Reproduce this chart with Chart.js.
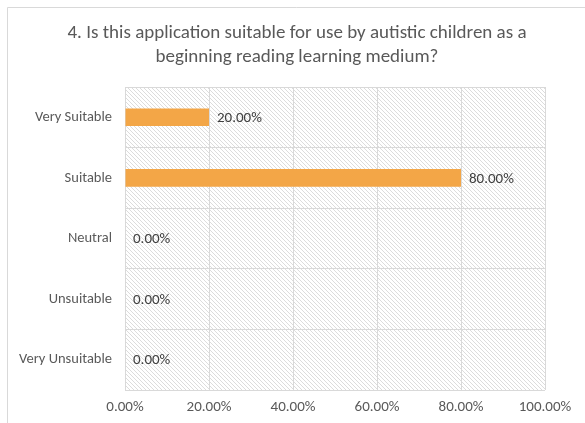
<!DOCTYPE html>
<html>
<head>
<meta charset="utf-8">
<script src="https://cdn.jsdelivr.net/npm/chart.js@4"></script>
<style>
html,body{margin:0;padding:0;background:#fff;}
#wrap{position:relative;width:585px;height:423px;}
</style>
</head>
<body>
<div id="wrap"><canvas id="c" width="585" height="423"></canvas></div>
<script>
const categories = ['Very Suitable', 'Suitable', 'Neutral', 'Unsuitable', 'Very Unsuitable'];
const percentages = [20, 80, 0, 0, 0];
const xTicks = [0, 20, 40, 60, 80, 100];
const titleLines = ['4. Is this application suitable for use by autistic children as a', 'beginning reading learning medium?'];

const FONT = 'Carlito, Lato, "Liberation Sans", sans-serif';

function makeHatch() {
  const n = 4;
  const p = document.createElement('canvas');
  p.width = n; p.height = n;
  const g = p.getContext('2d');
  g.fillStyle = '#ffffff';
  g.fillRect(0, 0, n, n);
  g.fillStyle = '#dcdcdc';
  for (let i = 0; i < n; i++) g.fillRect(i, i, 1, 1);
  return p;
}

const bgPlugin = {
  id: 'bg',
  beforeDraw(chart) {
    const ctx = chart.ctx;
    ctx.save();
    ctx.fillStyle = '#fff';
    ctx.fillRect(0, 0, chart.width, chart.height);
    ctx.strokeStyle = '#d9d9d9';
    ctx.lineWidth = 1;
    ctx.beginPath();
    ctx.moveTo(7.5, chart.height);
    ctx.lineTo(7.5, 7.5);
    ctx.lineTo(chart.width, 7.5);
    ctx.stroke();
    const a = chart.chartArea;
    ctx.fillStyle = ctx.createPattern(makeHatch(), 'repeat');
    ctx.fillRect(a.left, a.top, a.right - a.left, a.bottom - a.top);
    // chart title (centered on the chart frame)
    ctx.font = '19px ' + FONT;
    ctx.fillStyle = '#595959';
    ctx.textAlign = 'center';
    ctx.textBaseline = 'middle';
    titleLines.forEach((t, i) => ctx.fillText(t, 297, 33 + i * 24));
    ctx.restore();
  }
};

const labelPlugin = {
  id: 'valueLabels',
  afterDatasetsDraw(chart) {
    const ctx = chart.ctx;
    const meta = chart.getDatasetMeta(0);
    ctx.save();
    ctx.font = '15px ' + FONT;
    ctx.fillStyle = '#404040';
    ctx.textAlign = 'left';
    ctx.textBaseline = 'middle';
    meta.data.forEach((bar, i) => {
      ctx.fillText(percentages[i].toFixed(2) + '%', bar.x + 8, bar.y + 1);
    });
    ctx.restore();
  }
};

new Chart(document.getElementById('c'), {
  type: 'bar',
  data: {
    labels: categories,
    datasets: [{
      data: percentages,
      backgroundColor: '#F3A647',
      borderWidth: 0,
      categoryPercentage: 1,
      barPercentage: 0.29
    }]
  },
  plugins: [bgPlugin, labelPlugin],
  options: {
    indexAxis: 'y',
    responsive: false,
    animation: false,
    layout: { padding: { left: 8, right: 40, top: 87, bottom: 0 } },
    plugins: {
      legend: { display: false },
      tooltip: { enabled: false },
      title: { display: false }
    },
    scales: {
      x: {
        min: 0, max: 100,
        afterBuildTicks(scale) { scale.ticks = xTicks.map(v => ({ value: v })); },
        afterFit(scale) { scale.height = 33; },
        ticks: {
          color: '#595959',
          font: { family: FONT, size: 15 },
          padding: 8,
          callback: v => Number(v).toFixed(2) + '%'
        },
        grid: { color: '#d9d9d9', drawTicks: false },
        border: { display: false }
      },
      y: {
        afterFit(scale) { scale.width = 117; },
        ticks: {
          color: '#595959',
          font: { family: FONT, size: 14.5 },
          padding: 13
        },
        grid: { color: '#d9d9d9', offset: true, drawTicks: false },
        border: { display: true, color: '#d9d9d9' }
      }
    }
  }
});
</script>
</body>
</html>
